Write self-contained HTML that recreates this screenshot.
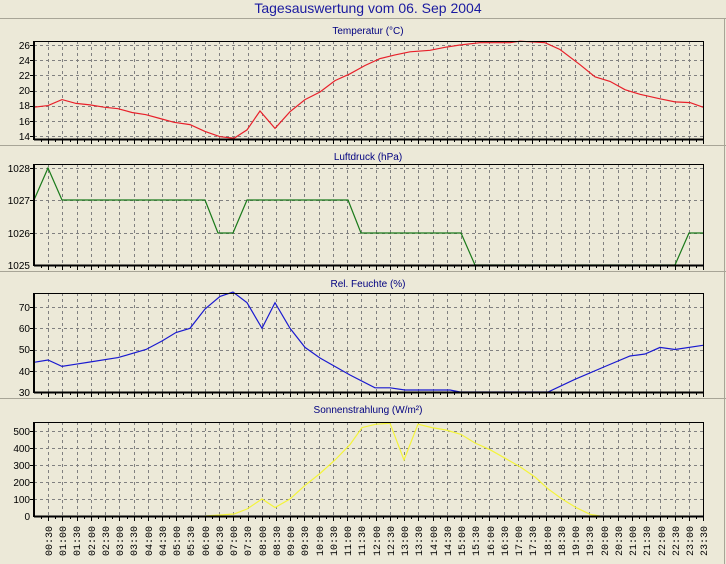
<!DOCTYPE html>
<html><head><meta charset="utf-8"><style>
html,body{margin:0;padding:0;background:#ece9d8;width:726px;height:564px;overflow:hidden}
svg{display:block}
text{font-family:"Liberation Sans",sans-serif}
.yl{font-size:10px;fill:#000;text-anchor:end}
.pt{font-size:10px;fill:#000080;text-anchor:middle}
.xl{font-family:"Liberation Mono",monospace;font-size:10px;fill:#000}
</style></head><body>
<svg id="s" width="726" height="564" xmlns="http://www.w3.org/2000/svg">
<rect width="726" height="564" fill="#ece9d8"/>
<text x="368" y="13" font-size="14" fill="#1a1aa0" text-anchor="middle">Tagesauswertung vom 06. Sep 2004</text>
<line x1="0" y1="18.5" x2="726" y2="18.5" stroke="#a8a597"/>
<line x1="0" y1="145.5" x2="726" y2="145.5" stroke="#a8a597"/>
<line x1="0" y1="271.5" x2="726" y2="271.5" stroke="#a8a597"/>
<line x1="0" y1="398.5" x2="726" y2="398.5" stroke="#a8a597"/>
<line x1="724.5" y1="18" x2="724.5" y2="564" stroke="#a8a597"/>
<text class="pt" x="368" y="34">Temperatur (°C)</text>
<text class="pt" x="368" y="160">Luftdruck (hPa)</text>
<text class="pt" x="368" y="287">Rel. Feuchte (%)</text>
<text class="pt" x="368" y="413">Sonnenstrahlung (W/m²)</text>
<g id="grid"></g>
<g class="yl">
<text x="30" y="49">26</text><text x="30" y="64">24</text><text x="30" y="79">22</text><text x="30" y="94">20</text><text x="30" y="109">18</text><text x="30" y="125">16</text><text x="30" y="140">14</text>
<text x="30" y="172">1028</text><text x="30" y="204">1027</text><text x="30" y="237">1026</text><text x="30" y="269">1025</text>
<text x="30" y="311">70</text><text x="30" y="332">60</text><text x="30" y="353">50</text><text x="30" y="375">40</text><text x="30" y="396">30</text>
<text x="30" y="435">500</text><text x="30" y="452">400</text><text x="30" y="469">300</text><text x="30" y="486">200</text><text x="30" y="503">100</text><text x="30" y="520">0</text>
</g>
<polyline fill="none" stroke="#e8202a" stroke-width="1.2" points="34,107.2 48,105.6 62,99.6 76,103.4 90,104.9 104,107.2 118,108.7 132,112.5 146,114.7 160,118.5 174,122.3 190,124.6 205,131.4 220,136.7 234,138.2 247,129.9 260,111 275,128.4 290,111.7 305,99.6 320,92 335,80.6 350,73.8 365,65.5 380,58.6 395,54.9 410,51.8 430,50.3 445,47.3 460,45 480,42.7 510,42.7 520,41.2 545,42.7 560,49.5 580,64.7 595,76.8 610,81.4 625,89.7 640,94.3 660,98.8 675,101.9 690,102.6 703,107.2"/>
<polyline fill="none" stroke="#1a7a1a" stroke-width="1.2" points="34,200 48,168 62,200 205,200 218,233 233,233 247,200 348,200 361,233 461,233 475,265 675,265 689,233 703,233"/>
<polyline fill="none" stroke="#1a1ad0" stroke-width="1.2" points="34,362.3 48,360 62,366.4 76,364.2 90,362 118,357.6 146,349.5 162,341 176,332.5 190,328.3 205,309 220,296.4 233,292 247,302.7 262,328.3 275,302.7 290,328.3 305,347.4 320,358 335,366.5 350,375 375,387.8 390,387.8 405,390 450,390 460,392 548,392 575,379.3 605,366.5 630,356 645,354 660,347.4 675,349.5 703,345.3"/>
<polyline fill="none" stroke="#f4f43a" stroke-width="1.2" points="205,516 220,515 234,514 247,509 262,499 275,507.5 290,499 305,485.4 320,473.5 335,460 350,444.6 362,427.6 376,424.2 390,423.3 404,460 418,424.2 432,427.6 446,430 461,434.4 475,443 490,449.7 505,458.2 520,466.7 535,477 548,488.8 562,499 576,507.5 590,514.3 600,516"/>
<g id="frames"></g>
<g id="xl"><text class="xl" transform="translate(52,556) rotate(-90)">00:30</text><text class="xl" transform="translate(66,556) rotate(-90)">01:00</text><text class="xl" transform="translate(80,556) rotate(-90)">01:30</text><text class="xl" transform="translate(95,556) rotate(-90)">02:00</text><text class="xl" transform="translate(109,556) rotate(-90)">02:30</text><text class="xl" transform="translate(123,556) rotate(-90)">03:00</text><text class="xl" transform="translate(137,556) rotate(-90)">03:30</text><text class="xl" transform="translate(152,556) rotate(-90)">04:00</text><text class="xl" transform="translate(166,556) rotate(-90)">04:30</text><text class="xl" transform="translate(180,556) rotate(-90)">05:00</text><text class="xl" transform="translate(194,556) rotate(-90)">05:30</text><text class="xl" transform="translate(209,556) rotate(-90)">06:00</text><text class="xl" transform="translate(223,556) rotate(-90)">06:30</text><text class="xl" transform="translate(237,556) rotate(-90)">07:00</text><text class="xl" transform="translate(251,556) rotate(-90)">07:30</text><text class="xl" transform="translate(266,556) rotate(-90)">08:00</text><text class="xl" transform="translate(280,556) rotate(-90)">08:30</text><text class="xl" transform="translate(294,556) rotate(-90)">09:00</text><text class="xl" transform="translate(308,556) rotate(-90)">09:30</text><text class="xl" transform="translate(323,556) rotate(-90)">10:00</text><text class="xl" transform="translate(337,556) rotate(-90)">10:30</text><text class="xl" transform="translate(351,556) rotate(-90)">11:00</text><text class="xl" transform="translate(365,556) rotate(-90)">11:30</text><text class="xl" transform="translate(380,556) rotate(-90)">12:00</text><text class="xl" transform="translate(394,556) rotate(-90)">12:30</text><text class="xl" transform="translate(408,556) rotate(-90)">13:00</text><text class="xl" transform="translate(422,556) rotate(-90)">13:30</text><text class="xl" transform="translate(437,556) rotate(-90)">14:00</text><text class="xl" transform="translate(451,556) rotate(-90)">14:30</text><text class="xl" transform="translate(465,556) rotate(-90)">15:00</text><text class="xl" transform="translate(479,556) rotate(-90)">15:30</text><text class="xl" transform="translate(494,556) rotate(-90)">16:00</text><text class="xl" transform="translate(508,556) rotate(-90)">16:30</text><text class="xl" transform="translate(522,556) rotate(-90)">17:00</text><text class="xl" transform="translate(536,556) rotate(-90)">17:30</text><text class="xl" transform="translate(551,556) rotate(-90)">18:00</text><text class="xl" transform="translate(565,556) rotate(-90)">18:30</text><text class="xl" transform="translate(579,556) rotate(-90)">19:00</text><text class="xl" transform="translate(593,556) rotate(-90)">19:30</text><text class="xl" transform="translate(608,556) rotate(-90)">20:00</text><text class="xl" transform="translate(622,556) rotate(-90)">20:30</text><text class="xl" transform="translate(636,556) rotate(-90)">21:00</text><text class="xl" transform="translate(650,556) rotate(-90)">21:30</text><text class="xl" transform="translate(665,556) rotate(-90)">22:00</text><text class="xl" transform="translate(679,556) rotate(-90)">22:30</text><text class="xl" transform="translate(693,556) rotate(-90)">23:00</text><text class="xl" transform="translate(707,556) rotate(-90)">23:30</text></g>
</svg>
<script>
var NS="http://www.w3.org/2000/svg";
function el(p,t,a){var e=document.createElementNS(NS,t);for(var k in a)e.setAttribute(k,a[k]);p.appendChild(e);return e;}
var g=document.getElementById("grid"),f=document.getElementById("frames");
var panels=[[41,139,[45,60.2,75.3,90.5,105.6,120.8,136]],[164,265,[168,200.3,232.7]],[293,392,[307,328.3,349.5,370.8]],[422,516,[431,448,465,482,499]]];
var x0=34,x1=703,dx=(x1-x0)/47;
panels.forEach(function(p){
 var t=p[0],b=p[1];
 for(var i=1;i<47;i++){var x=Math.round(x0+i*dx)+0.5;el(g,"line",{x1:x,y1:t,x2:x,y2:b,stroke:"#808080","stroke-dasharray":"3,3"});}
 p[2].forEach(function(y){y=Math.round(y)+0.5;el(g,"line",{x1:x0,y1:y,x2:x1,y2:y,stroke:"#808080","stroke-dasharray":"3,3"});el(f,"line",{x1:x0-4,y1:y,x2:x0,y2:y,stroke:"#000"});});
 el(f,"line",{x1:x0,y1:t+.5,x2:x1,y2:t+.5,stroke:"#000"});
 el(f,"line",{x1:x1+.5,y1:t,x2:x1+.5,y2:b,stroke:"#000"});
 el(f,"line",{x1:x0,y1:t,x2:x0,y2:b+1,stroke:"#000","stroke-width":2});
 el(f,"line",{x1:x0,y1:b+.5,x2:x1+1,y2:b+.5,stroke:"#000","stroke-width":2});
 for(var i=1;i<=94;i++){var x=Math.round(x0+i*dx/2)+0.5;el(f,"line",{x1:x,y1:b,x2:x,y2:b+(i%2?3:5),stroke:"#000"});}
});
</script>
</body></html>
